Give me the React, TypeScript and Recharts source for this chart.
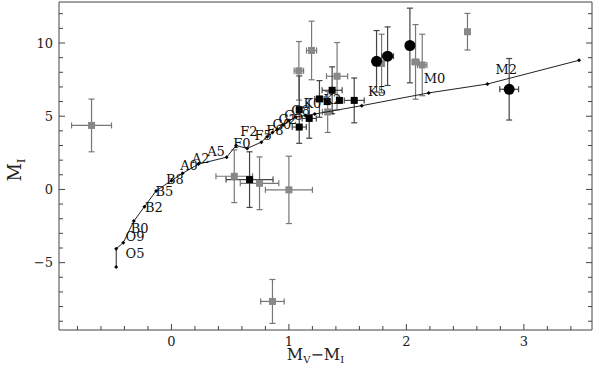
import { ComposedChart, Scatter, XAxis, YAxis, ErrorBar } from 'recharts';

// main sequence (colour, absolute I mag)
const msColor = [-0.47, -0.47, -0.41, -0.32, -0.23, -0.13, 0.0, 0.095, 0.23, 0.47, 0.55, 0.645, 0.765, 0.815, 0.86, 0.9, 0.95, 1.0, 1.06, 1.14, 1.22, 1.62, 2.19, 2.69, 3.47];
const msMag = [-5.3, -4.05, -3.64, -2.16, -1.18, -0.1, 0.6, 1.1, 1.73, 2.2, 3.0, 2.8, 3.23, 3.6, 3.88, 4.1, 4.4, 4.7, 4.95, 5.05, 5.15, 5.72, 6.59, 7.2, 8.82];

// spectral type labels
const spTypes = ['O5', 'O9', 'B0', 'B2', 'B5', 'B8', 'A0', 'A2', 'A5', 'F0', 'F2', 'F5', 'F8', 'G0', 'G2', 'G5', 'G8', 'K0', 'K2', 'K5', 'M0', 'M2'];
const spColor = [-0.31, -0.31, -0.27, -0.15, -0.06, 0.03, 0.15, 0.25, 0.38, 0.6, 0.66, 0.78, 0.88, 0.94, 0.99, 1.04, 1.1, 1.2, 1.37, 1.75, 2.24, 2.85];
const spMag = [-4.35, -3.2, -2.65, -1.2, -0.1, 0.72, 1.68, 2.16, 2.64, 3.18, 4.0, 3.75, 4.05, 4.5, 4.8, 5.05, 5.4, 5.9, 6.15, 6.7, 7.6, 8.2];

// gray squares
const grayColor = [-0.68, 0.86, 0.535, 0.75, 1.0, 1.085, 1.193, 1.41, 1.33, 1.789, 2.078, 2.135, 2.52];
const grayMag = [4.37, -7.65, 0.9, 0.42, -0.03, 8.1, 9.49, 7.73, 5.29, 8.6, 8.71, 8.5, 10.77];
const grayColorErr = [0.17, 0.1, 0.156, 0.164, 0.2, 0.04, 0.043, 0.09, 0.045, 0.0, 0.03, 0.04, 0.0];
const grayMagErr = [1.8, 1.5, 1.8, 1.8, 2.3, 2.0, 2.0, 2.3, 1.4, 2.0, 2.55, 2.1, 1.25];

// black squares
const blackSqColor = [0.665, 1.088, 1.088, 1.173, 1.26, 1.368, 1.326, 1.43, 1.556];
const blackSqMag = [0.67, 5.45, 4.26, 4.85, 6.18, 6.77, 6.0, 6.08, 6.08];
const blackSqColorErr = [0.2, 0.0, 0.06, 0.06, 0.04, 0.085, 0.0, 0.0, 0.085];
const blackSqMagErr = [1.9, 2.3, 0.0, 1.35, 1.25, 1.6, 0.0, 0.0, 1.53];

// black circles
const circColor = [1.746, 1.84, 2.03, 2.875];
const circMag = [8.75, 9.1, 9.83, 6.84];
const circColorErr = [0.0, 0.05, 0.0, 0.08];
const circMagErr = [2.1, 2.0, 2.55, 2.1];

const xTicks = [-0.8, -0.6, -0.4, -0.2, 0, 0.2, 0.4, 0.6, 0.8, 1, 1.2, 1.4, 1.6, 1.8, 2, 2.2, 2.4, 2.6, 2.8, 3, 3.2, 3.4];
const xLabels = [0, 1, 2, 3];
const yTicks = [-9, -8, -7, -6, -5, -4, -3, -2, -1, 0, 1, 2, 3, 4, 5, 6, 7, 8, 9, 10, 11, 12];
const yLabels = [-5, 0, 5, 10];

const msData = msColor.map((x, i) => ({ x, y: msMag[i] }));
const spData = spTypes.map((name, i) => ({ x: spColor[i], y: spMag[i], name }));
const grayData = grayColor.map((x, i) => ({ x, y: grayMag[i], ex: grayColorErr[i], ey: grayMagErr[i] }));
const blackSqData = blackSqColor.map((x, i) => ({ x, y: blackSqMag[i], ex: blackSqColorErr[i], ey: blackSqMagErr[i] }));
const circData = circColor.map((x, i) => ({ x, y: circMag[i], ex: circColorErr[i], ey: circMagErr[i] }));

const FONT = '"DejaVu Serif", "Liberation Serif", serif';
const FRAME = '#444';

const isMajor = (v: number, majors: number[]) => majors.some((m) => Math.abs(m - v) < 1e-6);

function BottomTick({ x, y, payload }: any) {
  const major = isMajor(payload.value, xLabels);
  return (
    <g>
      <line x1={x} y1={y} x2={x} y2={y - (major ? 6 : 4)} stroke={FRAME} />
      {major && (
        <text x={x} y={y + 16} textAnchor="middle" fontFamily={FONT} fontSize={13} fill="#222">
          {payload.value}
        </text>
      )}
    </g>
  );
}

function TopTick({ x, y, payload }: any) {
  const major = isMajor(payload.value, xLabels);
  return <line x1={x} y1={y} x2={x} y2={y + (major ? 6 : 4)} stroke={FRAME} />;
}

function LeftTick({ x, y, payload }: any) {
  const major = isMajor(payload.value, yLabels);
  return (
    <g>
      <line x1={x} y1={y} x2={x + (major ? 6 : 4)} y2={y} stroke={FRAME} />
      {major && (
        <text x={x - 6} y={y + 4.5} textAnchor="end" fontFamily={FONT} fontSize={13} fill="#222">
          {payload.value < 0 ? '\u2212' + Math.abs(payload.value) : payload.value}
        </text>
      )}
    </g>
  );
}

function RightTick({ x, y, payload }: any) {
  const major = isMajor(payload.value, yLabels);
  return <line x1={x} y1={y} x2={x - (major ? 6 : 4)} y2={y} stroke={FRAME} />;
}

function XTitle({ viewBox }: any) {
  return (
    <text x={viewBox.x + viewBox.width / 2 - 10} y={360} textAnchor="middle" fontFamily={FONT} fontSize={16} fill="#222">
      M<tspan dy={3} fontSize={10}>V</tspan>
      <tspan dy={-3}>{'\u2212'}M</tspan>
      <tspan dy={3} fontSize={10}>I</tspan>
    </text>
  );
}

function YTitle({ viewBox }: any) {
  const cx = 21;
  const cy = viewBox.y + viewBox.height / 2 + 4;
  return (
    <text x={cx} y={cy} transform={`rotate(-90, ${cx}, ${cy})`} textAnchor="middle" fontFamily={FONT} fontSize={18} fill="#222">
      M<tspan dy={4} fontSize={11}>I</tspan>
    </text>
  );
}

const Diamond = ({ cx, cy }: any) => (
  <path d={`M${cx},${cy - 2}L${cx + 2},${cy}L${cx},${cy + 2}L${cx - 2},${cy}Z`} fill="#000" />
);
const GraySquare = ({ cx, cy }: any) => <rect x={cx - 3.5} y={cy - 3.5} width={7} height={7} fill="#888" />;
const BlackSquare = ({ cx, cy }: any) => <rect x={cx - 3.5} y={cy - 3.5} width={7} height={7} fill="#000" />;
const BlackCircle = ({ cx, cy }: any) => <circle cx={cx} cy={cy} r={5.5} fill="#000" />;
const SpLabel = ({ cx, cy, payload }: any) => (
  <text x={cx} y={cy + 5} textAnchor="middle" fontFamily={FONT} fontSize={13} fill="#111">
    {payload.name}
  </text>
);

export default function App() {
  return (
    <div style={{ position: 'absolute', left: 0, top: 0, background: '#fff' }}>
      <ComposedChart width={600} height={372} margin={{ top: 0, right: 0, bottom: 0, left: 0 }}>
        <XAxis
          dataKey="x"
          type="number"
          domain={[-0.957, 3.58]}
          ticks={xTicks}
          tick={<BottomTick />}
          tickLine={false}
          tickSize={0}
          tickMargin={0}
          height={42}
          axisLine={{ stroke: FRAME }}
          interval={0}
          allowDataOverflow
          label={<XTitle />}
        />
        <XAxis
          xAxisId="top"
          orientation="top"
          type="number"
          domain={[-0.957, 3.58]}
          ticks={xTicks}
          tick={<TopTick />}
          tickLine={false}
          tickSize={0}
          tickMargin={0}
          height={2}
          axisLine={{ stroke: FRAME }}
          interval={0}
          allowDataOverflow
        />
        <YAxis
          dataKey="y"
          type="number"
          domain={[-9.6, 12.8]}
          ticks={yTicks}
          tick={<LeftTick />}
          tickLine={false}
          tickSize={0}
          tickMargin={0}
          width={59}
          axisLine={{ stroke: FRAME }}
          interval={0}
          allowDataOverflow
          label={<YTitle />}
        />
        <YAxis
          yAxisId="right"
          orientation="right"
          type="number"
          domain={[-9.6, 12.8]}
          ticks={yTicks}
          tick={<RightTick />}
          tickLine={false}
          tickSize={0}
          tickMargin={0}
          width={8}
          axisLine={{ stroke: FRAME }}
          interval={0}
          allowDataOverflow
        />
        <Scatter data={grayData} shape={<GraySquare />} isAnimationActive={false}>
          <ErrorBar dataKey="ex" direction="x" width={3} stroke="#777" strokeWidth={1.2} />
          <ErrorBar dataKey="ey" direction="y" width={3} stroke="#777" strokeWidth={1.2} />
        </Scatter>
        <Scatter data={blackSqData} shape={<BlackSquare />} isAnimationActive={false}>
          <ErrorBar dataKey="ex" direction="x" width={3} stroke="#444" strokeWidth={1.2} />
          <ErrorBar dataKey="ey" direction="y" width={3} stroke="#444" strokeWidth={1.2} />
        </Scatter>
        <Scatter data={circData} shape={<BlackCircle />} isAnimationActive={false}>
          <ErrorBar dataKey="ex" direction="x" width={3} stroke="#444" strokeWidth={1.2} />
          <ErrorBar dataKey="ey" direction="y" width={3} stroke="#444" strokeWidth={1.2} />
        </Scatter>
        <Scatter
          data={msData}
          shape={<Diamond />}
          line={{ stroke: '#222', strokeWidth: 1 }}
          lineType="joint"
          isAnimationActive={false}
        />
        <Scatter data={spData} shape={<SpLabel />} isAnimationActive={false} />
      </ComposedChart>
    </div>
  );
}
